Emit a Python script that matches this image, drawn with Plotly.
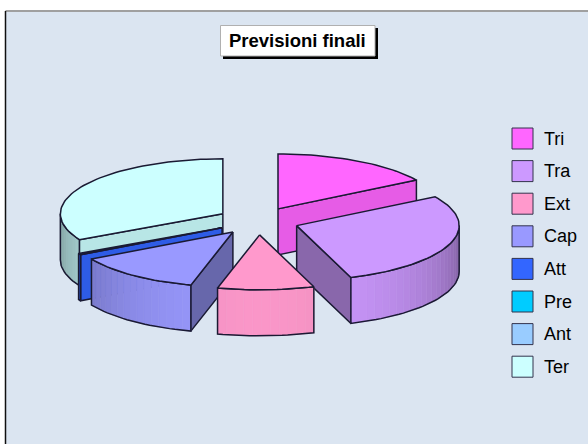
import math
import plotly.graph_objects as go

categories = ["Tri", "Tra", "Ext", "Cap", "Att", "Pre", "Ant", "Ter"]
values = [58.4, 102.1, 34.5, 45.5, 1.5, 0.0, 0.0, 118.0]
colors = ["#FF66FF", "#CC99FF", "#FF99CC", "#9999FF", "#3366FF", "#00CCFF", "#99CCFF", "#CCFFFF"]
title_text = "Previsioni finali"

# geometry in screen pixels (axes map 1:1 on the page)
CX, CY, RX, RY, DEPTH, EXPL = 258, 221, 162.5, 55, 46, 41
BG = "#DBE5F1"
EDGE = "#1A1A33"
LW = 1.5


def shade(hex_color, f):
    r, g, b = (int(hex_color[i:i + 2], 16) for i in (1, 3, 5))
    return f"rgb({round(r * f)},{round(g * f)},{round(b * f)})"


def arc(ax, ay, a0, a1, n=None):
    n = n or max(2, int(abs(a1 - a0) / 2) + 2)
    pts = []
    for i in range(n):
        a = math.radians(a0 + (a1 - a0) * i / (n - 1))
        pts.append((ax + RX * math.sin(a), ay - RY * math.cos(a)))
    return pts


def poly(fig, pts, fill, line=EDGE, width=LW):
    xs = [p[0] for p in pts] + [pts[0][0]]
    ys = [p[1] for p in pts] + [pts[0][1]]
    fig.add_trace(go.Scatter(x=xs, y=ys, mode="lines", fill="toself", fillcolor=fill,
                             line=dict(color=line, width=width), hoverinfo="skip", showlegend=False))


# angular extent and apex of every slice, from the values
slices = {}
start = 0.0
for name, v, c in zip(categories, values, colors):
    end = start + v
    mid = math.radians((start + end) / 2)
    slices[name] = dict(a0=start, a1=end, color=c,
                        ax=CX + EXPL * math.sin(mid),
                        ay=CY - EXPL * RY / RX * math.cos(mid))
    start = end


def draw_slice(fig, name):
    s = slices[name]
    a0, a1, ax, ay, c = s["a0"], s["a1"], s["ax"], s["ay"], s["color"]
    if a1 <= a0:
        return
    # cut faces that look towards the viewer
    if a0 > 180:  # left half: the face at the clockwise start
        p = arc(ax, ay, a0, a0, 2)[0]
        poly(fig, [(ax, ay), p, (p[0], p[1] + DEPTH), (ax, ay + DEPTH)], shade(c, 0.9 if a0 > 235 else 0.67))
    if a1 <= 180:  # right half: the face at the clockwise end
        p = arc(ax, ay, a1, a1, 2)[0]
        poly(fig, [(ax, ay), p, (p[0], p[1] + DEPTH), (ax, ay + DEPTH)], shade(c, 0.9 if a1 < 70 else 0.67))
    # outer rim, only where it faces the viewer
    lo, hi = max(a0, 90), min(a1, 270)
    if lo < hi:
        steps = max(2, int((hi - lo) / 3))
        for i in range(steps):
            b0 = lo + (hi - lo) * i / steps
            b1 = lo + (hi - lo) * (i + 1) / steps
            bm = math.radians((b0 + b1) / 2)
            f = 0.62 + 0.36 * max(0.0, math.cos(bm - math.pi))
            top = arc(ax, ay, b0, b1, 3)
            col = shade(c, f)
            poly(fig, top + [(x, y + DEPTH) for x, y in reversed(top)], col, line=col, width=0.6)
        rim = arc(ax, ay, lo, hi)
        xs = [p[0] for p in rim] + [p[0] for p in reversed(rim)]
        ys = [p[1] for p in rim] + [p[1] + DEPTH for p in reversed(rim)]
        fig.add_trace(go.Scatter(x=xs + xs[:1], y=ys + ys[:1], mode="lines",
                                 line=dict(color=EDGE, width=LW), hoverinfo="skip", showlegend=False))
    # top face
    poly(fig, [(ax, ay)] + arc(ax, ay, a0, a1), c)


fig = go.Figure()
for name in ["Tri", "Ter", "Att", "Cap", "Tra", "Ext"]:
    draw_slice(fig, name)

# legend
leg_x, leg_y0, leg_dy = 522.5, 138.5, 32.6
leg_ys = [leg_y0 + i * leg_dy for i in range(len(categories))]
fig.add_trace(go.Scatter(x=[leg_x] * len(categories), y=leg_ys, mode="markers",
                         marker=dict(symbol="square", size=21, color=colors,
                                     line=dict(color="#33334D", width=1)),
                         hoverinfo="skip", showlegend=False))
for y, t in zip(leg_ys, categories):
    fig.add_annotation(x=542, y=y, text=t, showarrow=False, xanchor="left", yanchor="middle",
                       font=dict(family="Liberation Sans", size=18, color="#000000"))

fig.add_annotation(x=297.5, y=40, text=f"<b>{title_text}</b>", showarrow=False,
                   font=dict(family="Liberation Sans", size=18.5, color="#000000"))

fig.update_layout(
    width=588, height=444, margin=dict(l=0, r=0, t=0, b=0),
    paper_bgcolor="#FFFFFF", plot_bgcolor="#FFFFFF", showlegend=False,
    xaxis=dict(range=[0, 588], visible=False, fixedrange=True),
    yaxis=dict(range=[444, 0], visible=False, fixedrange=True),
    shapes=[
        dict(type="rect", xref="x", yref="y", x0=5.5, x1=590, y0=11, y1=446, layer="below",
             fillcolor=BG, line=dict(width=0)),
        dict(type="line", xref="x", yref="y", x0=5.5, x1=588, y0=11, y1=11, layer="below",
             line=dict(color="#A0A0A0", width=2)),
        dict(type="line", xref="x", yref="y", x0=5.5, x1=5.5, y0=11, y1=444, layer="below",
             line=dict(color="#101010", width=1.5)),
        dict(type="rect", xref="x", yref="y", x0=223, x1=378, y0=28, y1=59, layer="below",
             fillcolor="#000000", line=dict(width=0)),
        dict(type="rect", xref="x", yref="y", x0=220.5, x1=375, y0=25.5, y1=56, layer="below",
             fillcolor="#FFFFFF", line=dict(color="#B0B0B0", width=1)),
    ],
)
fig.write_html("out.html", config={"displayModeBar": False},
               post_script="document.body.style.margin='0';document.documentElement.style.overflow='hidden';")
